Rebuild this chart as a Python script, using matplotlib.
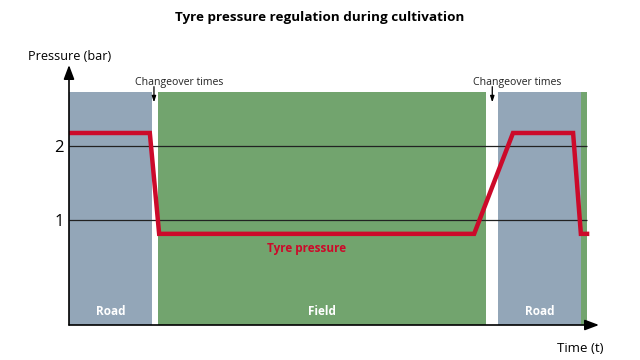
import matplotlib.pyplot as plt

# time in arbitrary units (0..100 along the axis), pressure in bar
zones = ['Road', 'Field', 'Road', '']
zone_start = [0.0, 17.2, 82.8, 98.8]
zone_end = [16.0, 80.4, 98.8, 100.0]
zone_kind = ['road', 'field', 'road', 'field']

t = [0.0, 15.6, 17.4, 78.2, 85.7, 97.3, 98.8, 100.0]
pressure = [2.17, 2.17, 0.82, 0.82, 2.17, 2.17, 0.82, 0.82]

changeover_t = [16.4, 81.7]
grid_levels = [1, 2]

colors = {'road': '#93a6b8', 'field': '#72a46e'}
red = '#cc0a2a'

plt.rcParams['font.family'] = ['Open Sans', 'DejaVu Sans']

fig = plt.figure(figsize=(6.4, 3.6), dpi=100)
ax = fig.add_axes([69 / 640, 35 / 360, 530 / 640, 260 / 360])
ax.set_xlim(0, 102.3)
ax.set_ylim(-0.4, 3.08)

band_top = 2.72
for name, a, b, kind in zip(zones, zone_start, zone_end, zone_kind):
    ax.fill_between([a, b], -0.4, band_top, color=colors[kind], lw=0, zorder=1)
    if name:
        ax.text((a + b) / 2, -0.22, name, color='white', fontsize=8.5,
                fontweight='bold', ha='center', va='center', zorder=4)

ax.hlines(grid_levels, 0, 100, color='#222222', lw=0.9, zorder=2)
ax.plot(t, pressure, color=red, lw=3.2, solid_joinstyle='miter', zorder=3)
ax.text(45.8, 0.62, 'Tyre pressure', color=red, fontsize=8.5,
        fontweight='bold', ha='center', va='center', zorder=4)

for ct in changeover_t:
    ax.annotate('', xy=(ct, 2.58), xytext=(ct, 2.79),
                arrowprops=dict(arrowstyle='-|>,head_length=0.6,head_width=0.2',
                                color='black', lw=0.9, mutation_scale=6,
                                shrinkA=0, shrinkB=0))
    ax.text(ct - 3.7, 2.81, 'Changeover times', fontsize=7.6, ha='left',
            va='baseline', color='#222222')

for s in ax.spines.values():
    s.set_visible(False)
ax.set_xticks([])
ax.set_yticks(grid_levels)
ax.set_yticklabels([str(v) for v in grid_levels], fontsize=12)
ax.tick_params(axis='y', length=0, pad=4)

arrow = dict(arrowstyle='-|>,head_length=0.85,head_width=0.32', color='black',
             lw=1.2, mutation_scale=10, shrinkA=0, shrinkB=0)
ax.annotate('', xy=(0, 1), xytext=(0, 0), xycoords='axes fraction',
            arrowprops=arrow, annotation_clip=False)
ax.annotate('', xy=(1, 0), xytext=(0, 0), xycoords='axes fraction',
            arrowprops=arrow, annotation_clip=False)

fig.text(0.499, 1 - 18 / 360, 'Tyre pressure regulation during cultivation',
         fontsize=9.7, fontweight='bold', ha='center', va='center')
fig.text(70 / 640, 1 - 57 / 360, 'Pressure (bar)', fontsize=9.1,
         ha='center', va='center')
fig.text(580 / 640, 1 - 348 / 360, 'Time (t)', fontsize=9.5,
         ha='center', va='center')

fig.savefig('out.png', dpi=100)
